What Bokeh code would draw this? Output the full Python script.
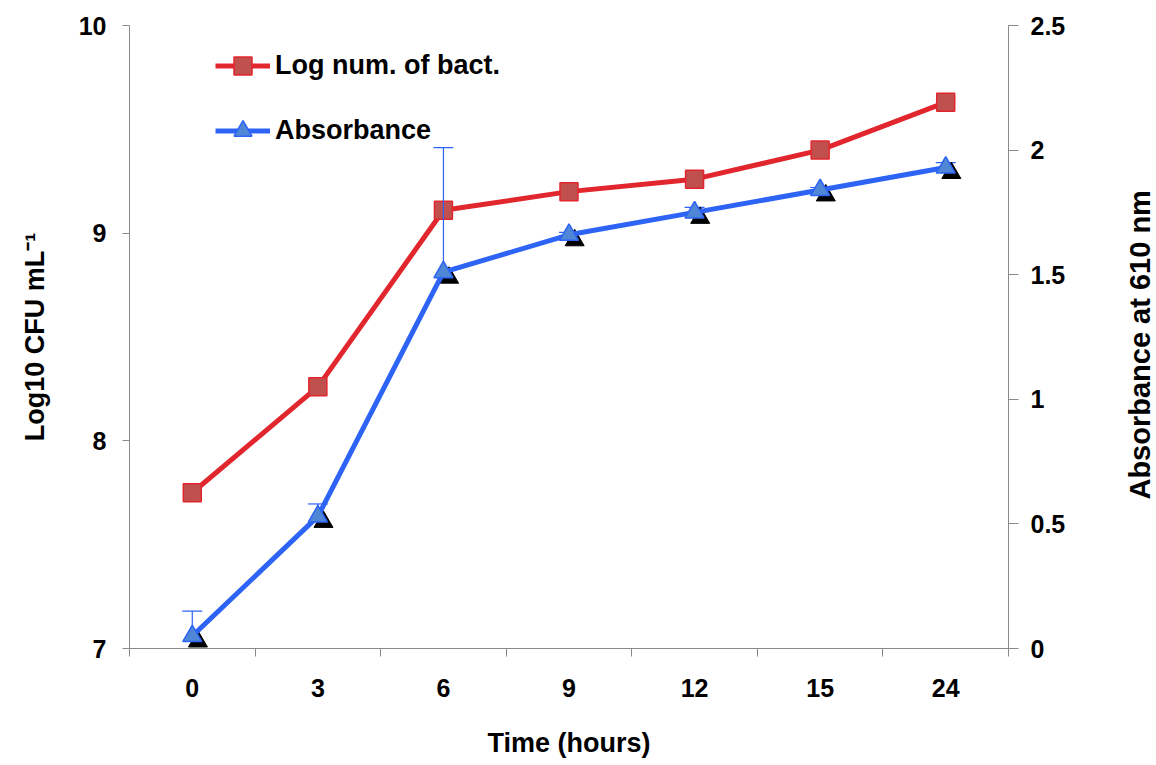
import math
from bokeh.plotting import figure
from bokeh.layouts import row
from bokeh.models import (ColumnDataSource, Range1d, LinearAxis, FixedTicker,
                          Legend, LegendItem)
from bokeh.core.properties import value
from bokeh.transform import dodge
from bokeh.embed import file_html
from bokeh.resources import INLINE

# ---- data ----
hours = ["0", "3", "6", "9", "12", "15", "24"]
log_cfu = [7.75, 8.26, 9.11, 9.20, 9.26, 9.40, 9.63]
absorbance = [0.05, 0.53, 1.51, 1.66, 1.75, 1.84, 1.93]
abs_err = [0.10, 0.05, 0.50, 0.01, 0.02, 0.01, 0.02]
right_title = ["Absorbance at 610 nm"]

xpos = [i + 0.5 for i in range(len(hours))]
src = ColumnDataSource(dict(
    x=xpos, cfu=log_cfu, ab=absorbance,
    top=[a + e for a, e in zip(absorbance, abs_err)],
))

FONT = "Liberation Sans"
AX_COL = "#8a8a8a"
TOP, FH, BOT = 25, 623, 108

p = figure(frame_width=879, frame_height=FH, output_backend="svg",
           toolbar_location=None, x_range=Range1d(0, len(hours)),
           y_range=Range1d(7, 10), min_border_left=129, min_border_right=112,
           min_border_top=TOP, min_border_bottom=BOT, background_fill_color="white",
           border_fill_color="white")
p.outline_line_color = None
p.xgrid.visible = False
p.ygrid.visible = False
p.extra_y_ranges = {"abs": Range1d(0, 2.5)}

# x axis
xa = p.xaxis[0]
xa.ticker = FixedTicker(ticks=xpos, minor_ticks=list(range(len(hours) + 1)))
xa.major_label_overrides = {x: h for x, h in zip(xpos, hours)}
xa.major_tick_line_color = None
xa.minor_tick_out = 8
xa.minor_tick_in = 0
xa.minor_tick_line_color = AX_COL
xa.axis_line_color = AX_COL
xa.axis_label = "Time (hours)"
xa.major_label_standoff = 22
xa.axis_label_standoff = 28

# left axis
ya = p.yaxis[0]
ya.ticker = FixedTicker(ticks=[7, 8, 9, 10])
ya.minor_tick_line_color = None
ya.major_tick_out = 7
ya.major_tick_in = 0
ya.major_tick_line_color = AX_COL
ya.axis_line_color = AX_COL
ya.axis_label = "Log10 CFU mL\u207b\u00b9"
ya.major_label_standoff = 16
ya.axis_label_standoff = 26

# right axis
ra = LinearAxis(y_range_name="abs",
                ticker=FixedTicker(ticks=[0, 0.5, 1, 1.5, 2, 2.5]),
                major_label_overrides={0: "0", 0.5: "0.5", 1: "1", 1.5: "1.5", 2: "2", 2.5: "2.5"})
ra.minor_tick_line_color = None
ra.major_tick_out = 10
ra.major_tick_in = 0
ra.major_tick_line_color = AX_COL
ra.axis_line_color = AX_COL
ra.major_label_standoff = 12
p.add_layout(ra, "right")

for ax in [xa, ya, ra]:
    ax.major_label_text_font = FONT
    ax.major_label_text_font_style = "bold"
    ax.major_label_text_font_size = "25px"
    ax.major_label_text_color = "black"
    ax.axis_label_text_font = FONT
    ax.axis_label_text_font_style = "bold"
    ax.axis_label_text_font_size = "27px"
    ax.axis_label_text_color = "black"

RED_LINE = "#e2262e"
RED_FILL = "#c0504d"
BLUE_LINE = "#2d64f5"
BLUE_FILL = "#4f86d6"

# red series
r_line = p.line("x", "cfu", source=src, line_color=RED_LINE, line_width=5)
r_pts = p.scatter("x", "cfu", source=src, marker="square", size=18,
                  fill_color=RED_FILL, line_color=RED_LINE, line_width=1.5)

# error bars (absorbance)
p.segment(x0="x", y0="ab", x1="x", y1="top", source=src, y_range_name="abs",
          line_color=BLUE_LINE, line_width=1.2)
p.scatter("x", "top", source=src, y_range_name="abs", marker="dash", size=20,
          line_color=BLUE_LINE, line_width=1.2)

# shadow triangles
p.scatter(dodge("x", 0.045, range=p.x_range), dodge("ab", -0.022, range=p.extra_y_ranges["abs"]),
          source=src, y_range_name="abs", marker="triangle", size=19,
          fill_color="black", line_color="black")

# blue series
b_line = p.line("x", "ab", source=src, y_range_name="abs", line_color=BLUE_LINE, line_width=5)
b_pts = p.scatter("x", "ab", source=src, y_range_name="abs", marker="triangle", size=19,
                  fill_color=BLUE_FILL, line_color=BLUE_LINE, line_width=1.5)

legend = Legend(items=[
    LegendItem(label="Log num. of bact.", renderers=[r_line, r_pts]),
    LegendItem(label="Absorbance", renderers=[b_line, b_pts]),
], location=(86, 495), orientation="vertical")
legend.glyph_width = 55
legend.glyph_height = 45
legend.label_height = 45
legend.spacing = 20
legend.padding = 0
legend.margin = 0
legend.label_standoff = 5
legend.border_line_color = None
legend.background_fill_alpha = 0
legend.label_text_font = FONT
legend.label_text_font_style = "bold"
legend.label_text_font_size = "27px"
legend.label_text_color = "black"
p.add_layout(legend, "center")

# narrow side panel carrying the right-axis title (reads bottom-to-top)
total_h = TOP + FH + BOT
q = figure(width=36, height=total_h, output_backend="svg", toolbar_location=None,
           x_range=Range1d(0, 1), y_range=Range1d(0, total_h),
           min_border=0, background_fill_color="white", border_fill_color="white")
q.outline_line_color = None
q.axis.visible = False
q.grid.visible = False
q.text(x=[0.55], y=[total_h - 390], text=right_title, angle=math.pi / 2,
       text_align="center", text_baseline="middle",
       text_font=value(FONT), text_font_style="bold", text_font_size="29px",
       text_color="black")

open("out.html", "w").write(file_html(row(p, q), INLINE))
